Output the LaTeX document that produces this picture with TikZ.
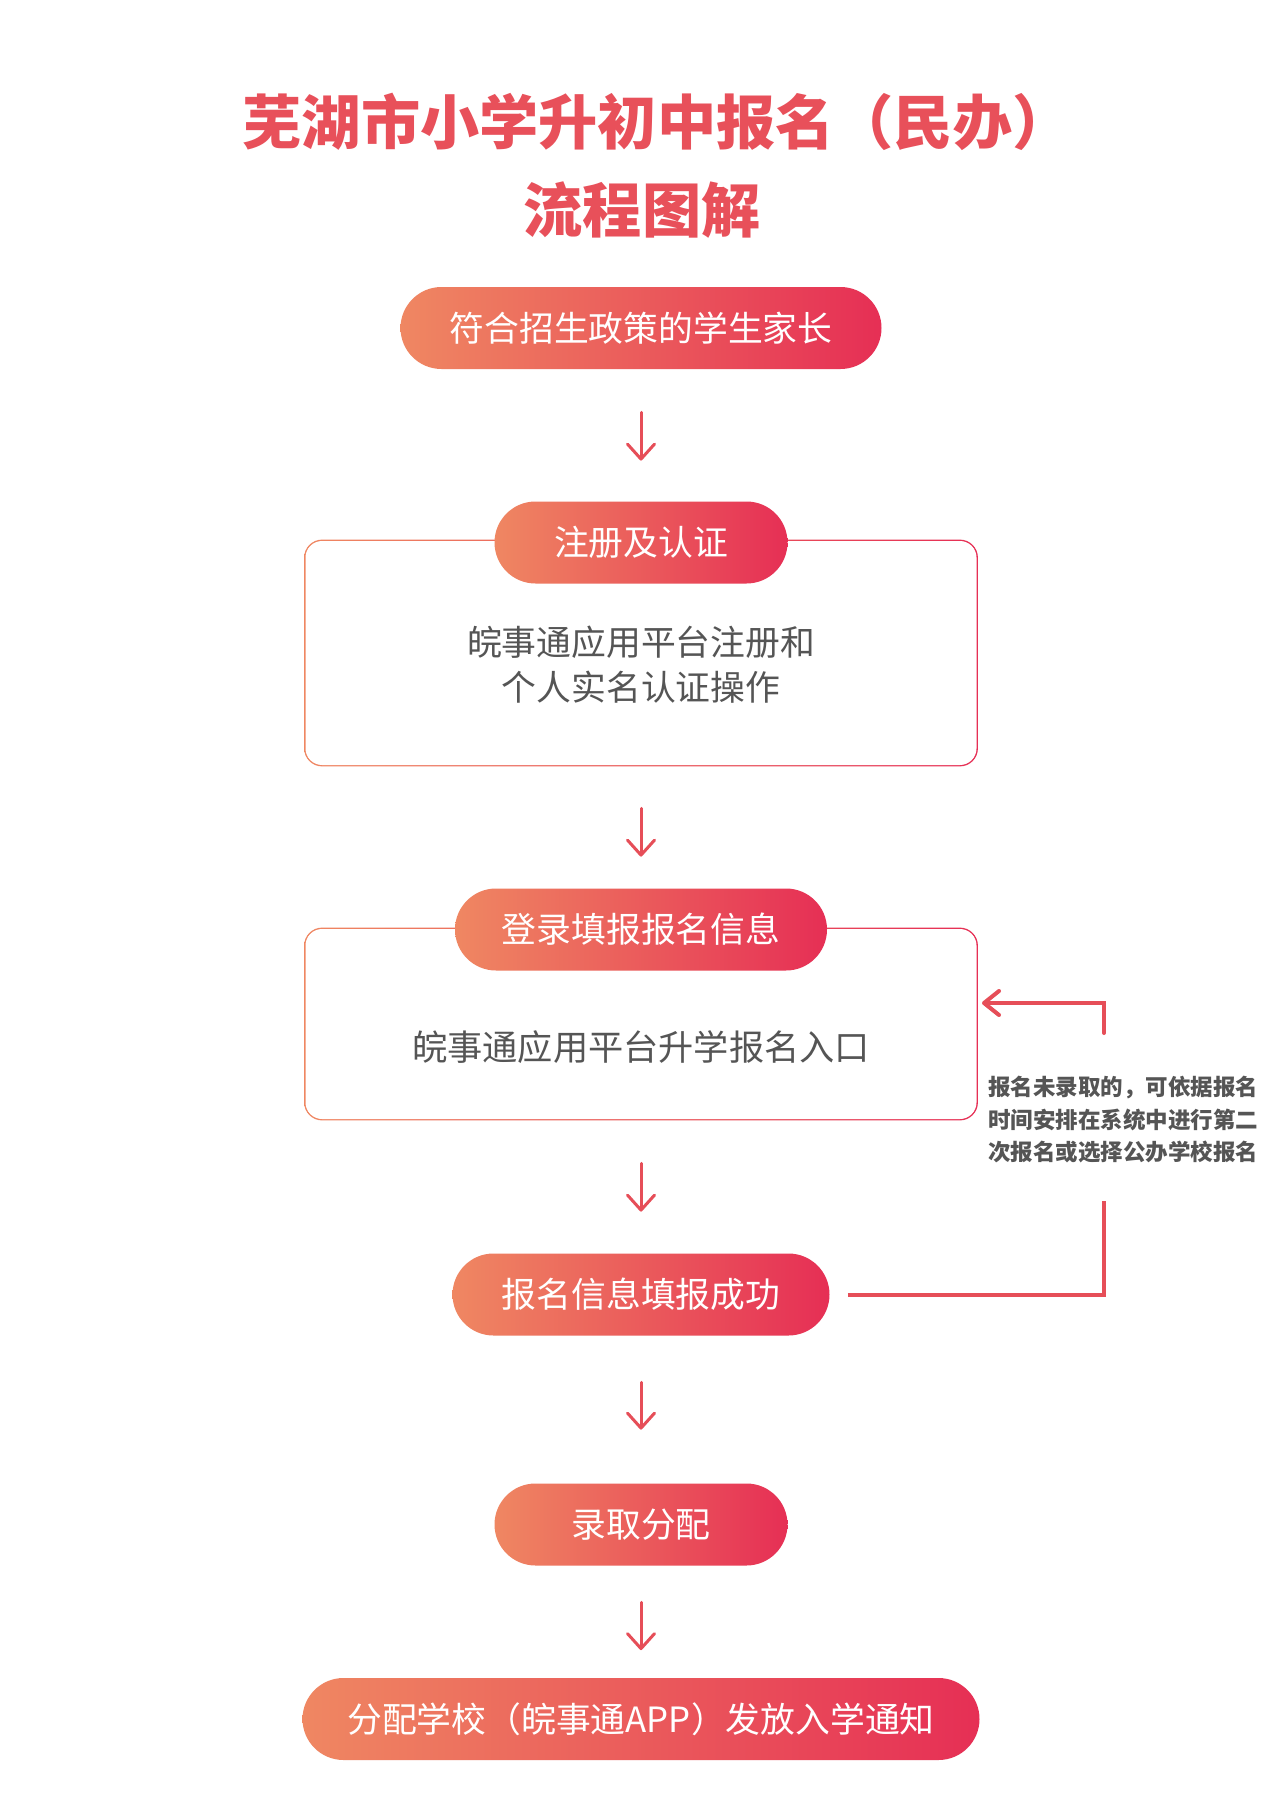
\documentclass[tikz,border=0pt]{standalone}
\usepackage{fontspec}
\setmainfont{Noto Sans CJK SC}
\usetikzlibrary{arrows.meta}
\definecolor{pl}{RGB}{239,135,98}
\definecolor{pr}{RGB}{230,47,85}
\definecolor{ttl}{RGB}{232,80,90}
\definecolor{arr}{RGB}{230,78,88}
\definecolor{gtxt}{RGB}{85,85,85}
\newcommand\gframe[1]{%
  \shade[left color=pl,right color=pr,rounded corners=9pt] (#1.south west) rectangle (#1.north east);
  \fill[white,rounded corners=8.3pt] ([shift={(0.7pt,0.7pt)}]#1.south west) rectangle ([shift={(-0.7pt,-0.7pt)}]#1.north east);}
\begin{document}
\begin{tikzpicture}[x=0.5pt,y=-0.5pt,
  title/.style={text=ttl,font=\fontsize{29.6pt}{32pt}\selectfont\bfseries,inner sep=0pt},
  pill/.style={rounded corners=20.5pt,minimum height=41pt,inner sep=0pt,left color=pl,right color=pr,text=white,font=\fontsize{17.4pt}{20pt}\selectfont},
  frame/.style={minimum width=336.5pt,inner sep=0pt,draw=none},
  body/.style={align=center,text=gtxt,inner sep=0pt},
  note/.style={align=left,text=gtxt,inner sep=0pt,font=\fontsize{11.25pt}{16.25pt}\selectfont\bfseries},
  darr/.style={draw=arr,line width=1.5pt,line cap=round,-{Straight Barb[length=7.5pt,width=13.5pt,round]}},
  side/.style={draw=arr,line width=2pt}
]
\useasboundingbox (0,0) rectangle (1280,1809);
\fill[white] (0,0) rectangle (1280,1809);

\node[title] (t1) at (657,122) {芜湖市小学升初中报名（民办）};
\node[title] (t2) at (642,210) {流程图解};

\node[pill,minimum width=240.5pt] (p1) at (641,328) {符合招生政策的学生家长};

\node[frame,minimum height=113pt] (b2) at (641,653) {};
\gframe{b2}
\node[body,font=\fontsize{17.4pt}{22.5pt}\selectfont] (b2t) at (641,664.5) {皖事通应用平台注册和\\个人实名认证操作};
\node[pill,minimum width=146.5pt] (p2) at (641,542.5) {注册及认证};

\node[frame,minimum height=96pt] (b3) at (641,1024) {};
\gframe{b3}
\node[body,font=\fontsize{17.6pt}{22pt}\selectfont] (b3t) at (641,1047) {皖事通应用平台升学报名入口};
\node[pill,minimum width=186pt] (p3) at (641,929.5) {登录填报报名信息};

\node[pill,minimum width=188.5pt] (p4) at (641,1294.5) {报名信息填报成功};
\node[pill,minimum width=146.5pt] (p5) at (641,1524.5) {录取分配};
\node[pill,minimum width=338.5pt] (p6) at (641,1719) {分配学校（皖事通APP）发放入学通知};

\draw[darr,shorten <=21.5pt,shorten >=20.25pt] (p1) -- (p2);
\draw[darr,shorten <=21pt,shorten >=15.75pt] (b2) -- (p3);
\draw[darr,shorten <=21.5pt,shorten >=20.75pt] (b3) -- (p4);
\draw[darr,shorten <=23.25pt,shorten >=26.75pt] (p4) -- (p5);
\draw[darr,shorten <=18.25pt,shorten >=13.75pt] (p5) -- (p6);

\node[note] (n) at (1123,1120) {报名未录取的，可依据报名\\时间安排在系统中进行第二\\次报名或选择公办学校报名};

\coordinate (s1) at ([xshift=9pt]p4.east);
\coordinate (s2) at (1104,1201);
\coordinate (s3) at (1104,1033);
\coordinate (s4) at (982,1003);
\draw[side] (s1) -| (s2);
\draw[side,line cap=round,-{Straight Barb[length=7.5pt,width=12pt,round]}] (s3) |- (s4);
\end{tikzpicture}
\end{document}
